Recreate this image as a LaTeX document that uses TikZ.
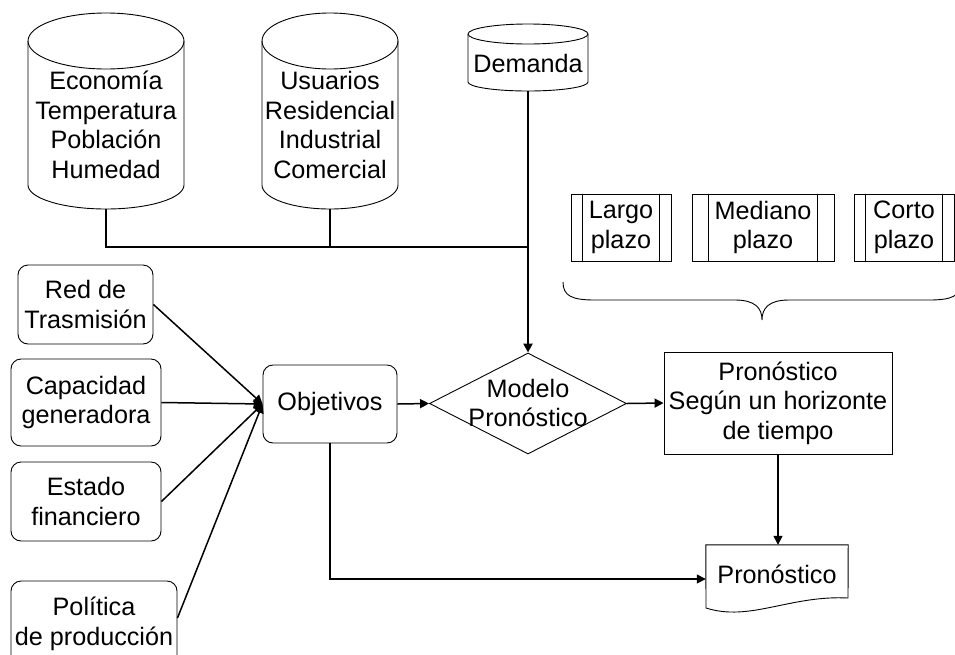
\documentclass[tikz,border=0pt]{standalone}
\usepackage{fontspec}
\setmainfont{Liberation Sans}
\usetikzlibrary{arrows.meta,shapes.geometric}

% cylinder outline: centre x, x radius, top, bottom, top y radius, bottom y radius
\newcommand\cylshape[6]{%
  \draw[outline, fill=white] (#1-#2,#3+#5) -- (#1-#2,#4-#6)
    arc[start angle=180,end angle=360,x radius=#2pt,y radius=#6pt]
    -- (#1+#2,#3+#5)
    arc[start angle=0,end angle=180,x radius=#2pt,y radius=#5pt] -- cycle;
  \draw[outline] (#1-#2,#3+#5)
    arc[start angle=180,end angle=360,x radius=#2pt,y radius=#5pt];
}

\begin{document}
\begin{tikzpicture}[x=1pt,y=-1pt,
  every node/.style={font=\fontsize{25.2pt}{29.5pt}\selectfont},
  txt/.style={inner sep=0pt, align=center},
  outline/.style={draw=black, line width=0.9pt},
  area/.style={inner sep=0pt, draw=none, align=center},
  rbox/.style={outline, rounded corners=10pt, inner sep=0pt, align=center},
  sbox/.style={outline, inner sep=0pt, align=center},
  conn/.style={line width=1.5pt},
  arr/.style={conn, -{Triangle[length=9pt,width=9pt]}},
]
\useasboundingbox (0,0) rectangle (955,654);
\clip (0,0) rectangle (955,654);

% data stores
\cylshape{106}{78}{13}{209}{28}{24}
\cylshape{330}{68}{13}{209}{28}{24}
\cylshape{528}{60}{24}{91}{10}{9}
\node[area, minimum width=156pt, minimum height=196pt] (econ) at (106,111) {};
\node[area, minimum width=136pt, minimum height=196pt] (usu) at (330,111) {};
\node[area, minimum width=120pt, minimum height=67pt] (dem) at (528,57.5) {};
\node[txt] (econ-t) at (106,125) {Economía\\Temperatura\\Población\\Humedad};
\node[txt] (usu-t) at (330,125) {Usuarios\\Residencial\\Industrial\\Comercial};
\node[txt] (dem-t) at (528,63) {Demanda};

% input factors
\node[rbox, minimum width=135pt, minimum height=79pt] (red) at (85.5,304.5) {Red de\\Trasmisión};
\node[rbox, minimum width=150pt, minimum height=87pt] (cap) at (86,402.5) {Capacidad\\generadora};
\node[rbox, minimum width=150pt, minimum height=79pt] (est) at (86,501.5) {Estado\\financiero};
\node[rbox, minimum width=166pt, minimum height=86pt] (pol) at (94,624) {Política\\de producción};
\node[rbox, minimum width=134pt, minimum height=78pt] (obj) at (330,404) {Objetivos};

% forecasting model
\node[diamond, outline, inner sep=0pt, minimum width=197pt, minimum height=101pt] (modelo) at (528,403.5) {};
\node[txt] (modelo-t) at (528,403) {Modelo\\Pronóstico};
\node[sbox, minimum width=228pt, minimum height=102pt] (horiz) at (778,403) {Pronóstico\\Según un horizonte\\de tiempo};

% output document
\node[area, minimum width=142pt, minimum height=58pt] (doc) at (777,574) {Pronóstico};
\draw[outline] (doc.north west) -- (706,608)
  .. controls (750,622) and (790,595) .. (848,598) -- (doc.north east) -- cycle;

% time horizons
\node[sbox, minimum width=100pt, minimum height=67pt] (lp) at (621,227.5) {Largo\\plazo};
\node[sbox, minimum width=142pt, minimum height=67pt] (mp) at (763,227.5) {Mediano\\plazo};
\node[sbox, minimum width=100pt, minimum height=67pt] (cp) at (904,227.5) {Corto\\plazo};
\foreach \n/\d in {lp/12, mp/17, cp/12} {
  \draw[outline] ([xshift=\d pt]\n.north west) -- ([xshift=\d pt]\n.south west);
  \draw[outline] ([xshift=-\d pt]\n.north east) -- ([xshift=-\d pt]\n.south east);
}
\draw[outline] (563,282) .. controls (563,296) and (572,300) .. (595,300) -- (735,300)
  .. controls (755,300) and (762,308) .. (762,320)
  .. controls (762,308) and (769,300) .. (789,300) -- (929,300)
  .. controls (952,300) and (961,296) .. (961,282);

% connectors
\coordinate (junc) at (528,247);
\draw[conn] (econ.south) |- (junc);
\draw[conn] (usu.south) -- (usu.south |- junc);
\draw[line width=1.2pt] (dem.south) -- (junc);
\draw[arr, line width=2.4pt] (junc) -- (modelo.north);

\draw[arr] (red.east) -- (obj.west);
\draw[arr] (cap.east) -- (obj.west);
\draw[arr] (est.east) -- (obj.west);
\draw[arr] ([yshift=6pt]pol.east) -- (obj.west);

\draw[arr] (obj.east) -- (modelo.west);
\draw[arr] (modelo.east) -- (horiz.west);
\draw[arr] (horiz.south) -- (horiz.south |- doc.north);
\draw[arr] (obj.south) |- ([yshift=-5pt]doc.west);
\end{tikzpicture}
\end{document}
